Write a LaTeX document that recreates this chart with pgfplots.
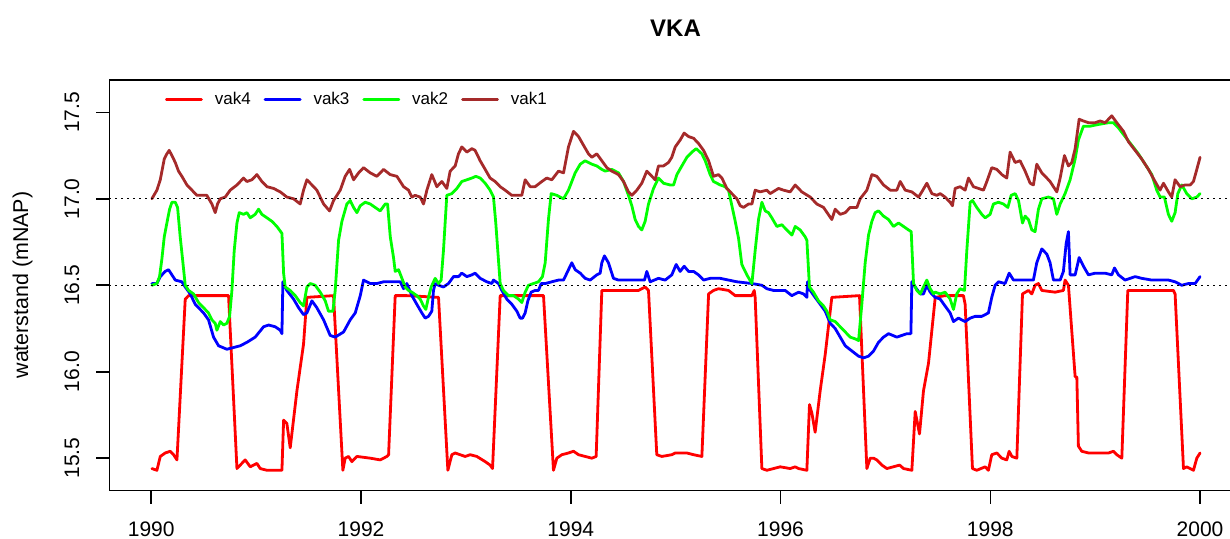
\documentclass[border=0pt]{standalone}
\usepackage{fontspec}
\setmainfont{Liberation Sans}
\usepackage{pgfplots}
\pgfplotsset{compat=1.18}
\definecolor{rred}{RGB}{255,0,0}
\definecolor{rblue}{RGB}{0,0,255}
\definecolor{rgreen}{RGB}{0,255,0}
\definecolor{rbrown}{RGB}{165,42,42}
\begin{document}
\begin{tikzpicture}
\begin{axis}[
  at={(54.65pt,23.75pt)}, anchor=south west,
  scale only axis, width=566.35pt, height=205.25pt,
  xmin=1989.6, xmax=2000.4, ymin=15.313, ymax=17.687,
  axis line style={line width=0.8pt},
  tick pos=left, tick align=outside, major tick length=6.5pt,
  tick style={black, line width=0.8pt},
  xtick={1990,1992,1994,1996,1998,2000},
  xticklabels={1990,1992,1994,1996,1998,2000},
  ytick={15.5,16.0,16.5,17.0,17.5},
  yticklabels={15.5,16.0,16.5,17.0,17.5},
  ticklabel style={font=\fontsize{10.5}{12}\selectfont},
  xticklabel style={yshift=-5.6pt},
  yticklabel style={xshift=-5pt, rotate=90, anchor=south},
  legend columns=4,
  legend style={draw=none, fill=none, inner sep=0pt, outer sep=0pt,
    at={(0.0492,0.9525)}, anchor=west,
    font=\fontsize{8.5}{10}\selectfont,
    nodes={inner sep=0pt},
    /tikz/every odd column/.append style={column sep=6pt},
    /tikz/every even column/.append style={column sep=6.5pt}},
  legend image code/.code={\draw[#1] (0pt,0pt) -- (17.5pt,0pt);},
  every axis plot/.append style={line width=1.4pt, line join=round, line cap=round},
]
\addplot[rred] coordinates {
(1990.006,15.44)(1990.054,15.43)(1990.086,15.51)(1990.133,15.53)(1990.181,15.54)(1990.213,15.52)(1990.245,15.49)
(1990.324,16.42)(1990.356,16.44)(1990.737,16.44)(1990.817,15.44)(1990.848,15.46)(1990.896,15.49)(1990.944,15.45)
(1991.007,15.47)(1991.039,15.44)(1991.103,15.43)(1991.246,15.43)(1991.262,15.72)(1991.293,15.70)(1991.325,15.56)
(1991.389,15.89)(1991.452,16.16)(1991.484,16.43)(1991.738,16.44)(1991.827,15.43)(1991.849,15.50)(1991.881,15.51)
(1991.913,15.48)(1991.961,15.51)(1992.088,15.50)(1992.183,15.49)(1992.247,15.51)(1992.263,15.52)(1992.326,16.44)
(1992.437,16.44)(1992.739,16.43)(1992.828,15.43)(1992.866,15.52)(1992.898,15.53)(1992.945,15.52)(1992.993,15.51)
(1993.041,15.52)(1993.104,15.51)(1993.184,15.48)(1993.231,15.46)(1993.254,15.44)(1993.327,16.44)(1993.740,16.44)
(1993.835,15.43)(1993.867,15.50)(1993.915,15.52)(1993.978,15.53)(1994.026,15.54)(1994.074,15.52)(1994.137,15.51)
(1994.201,15.50)(1994.242,15.51)(1994.296,16.47)(1994.487,16.47)(1994.646,16.47)(1994.709,16.49)(1994.741,16.47)
(1994.820,15.52)(1994.868,15.51)(1994.963,15.52)(1994.996,15.53)(1995.107,15.53)(1995.171,15.52)(1995.250,15.51)
(1995.314,16.45)(1995.361,16.47)(1995.409,16.48)(1995.504,16.47)(1995.568,16.44)(1995.727,16.44)(1995.749,16.47)
(1995.758,16.43)(1995.822,15.44)(1995.870,15.43)(1995.997,15.45)(1996.092,15.44)(1996.140,15.45)(1996.172,15.44)
(1996.251,15.43)(1996.276,15.81)(1996.299,15.76)(1996.330,15.65)(1996.378,15.89)(1996.426,16.10)(1996.489,16.43)
(1996.753,16.44)(1996.823,15.44)(1996.855,15.50)(1996.887,15.50)(1996.918,15.49)(1996.966,15.46)(1997.014,15.44)
(1997.135,15.46)(1997.173,15.44)(1997.252,15.43)(1997.284,15.77)(1997.325,15.64)(1997.363,15.89)(1997.411,16.05)
(1997.475,16.43)(1997.569,16.44)(1997.744,16.44)(1997.760,16.39)(1997.830,15.44)(1997.871,15.43)(1997.951,15.45)
(1997.982,15.43)(1998.014,15.52)(1998.062,15.53)(1998.110,15.50)(1998.157,15.49)(1998.180,15.54)(1998.205,15.51)
(1998.253,15.50)(1998.307,16.45)(1998.364,16.47)(1998.396,16.45)(1998.427,16.50)(1998.459,16.51)(1998.491,16.47)
(1998.618,16.46)(1998.697,16.47)(1998.713,16.53)(1998.745,16.50)(1998.809,15.97)(1998.825,15.97)(1998.840,15.57)
(1998.872,15.54)(1998.936,15.53)(1999.127,15.53)(1999.174,15.54)(1999.206,15.52)(1999.254,15.50)(1999.311,16.47)
(1999.540,16.47)(1999.746,16.47)(1999.762,16.45)(1999.842,15.44)(1999.873,15.45)(1999.905,15.44)(1999.937,15.43)
(1999.969,15.50)(2000.000,15.53)
};
\addlegendentry{vak4}
\addplot[rblue] coordinates {
(1990.006,16.51)(1990.054,16.51)(1990.086,16.55)(1990.133,16.58)(1990.165,16.59)(1990.197,16.56)(1990.229,16.53)
(1990.292,16.52)(1990.324,16.49)(1990.372,16.45)(1990.419,16.39)(1990.499,16.34)(1990.546,16.30)(1990.594,16.20)
(1990.642,16.15)(1990.721,16.13)(1990.785,16.14)(1990.848,16.15)(1990.912,16.17)(1990.991,16.20)(1991.071,16.26)
(1991.119,16.27)(1991.182,16.26)(1991.230,16.24)(1991.246,16.22)(1991.255,16.52)(1991.293,16.47)(1991.357,16.42)
(1991.405,16.37)(1991.452,16.33)(1991.484,16.34)(1991.532,16.41)(1991.579,16.37)(1991.643,16.30)(1991.706,16.21)
(1991.754,16.20)(1991.834,16.23)(1991.897,16.30)(1991.945,16.34)(1991.993,16.44)(1992.024,16.53)(1992.088,16.51)
(1992.151,16.51)(1992.215,16.52)(1992.310,16.52)(1992.374,16.52)(1992.406,16.48)(1992.437,16.51)(1992.485,16.44)
(1992.532,16.39)(1992.580,16.34)(1992.612,16.31)(1992.643,16.32)(1992.675,16.35)(1992.691,16.47)(1992.707,16.51)
(1992.739,16.50)(1992.786,16.49)(1992.834,16.51)(1992.882,16.55)(1992.929,16.55)(1992.961,16.57)(1993.009,16.55)
(1993.057,16.56)(1993.088,16.57)(1993.136,16.54)(1993.200,16.52)(1993.247,16.51)(1993.263,16.53)(1993.311,16.51)
(1993.343,16.47)(1993.390,16.42)(1993.438,16.39)(1993.486,16.35)(1993.517,16.31)(1993.540,16.31)(1993.565,16.34)
(1993.591,16.41)(1993.622,16.46)(1993.660,16.47)(1993.692,16.47)(1993.718,16.51)(1993.756,16.51)(1993.819,16.52)
(1993.883,16.53)(1993.931,16.53)(1993.978,16.59)(1994.010,16.63)(1994.042,16.59)(1994.090,16.57)(1994.137,16.54)
(1994.185,16.53)(1994.248,16.56)(1994.280,16.57)(1994.296,16.63)(1994.321,16.67)(1994.359,16.63)(1994.407,16.54)
(1994.455,16.53)(1994.518,16.53)(1994.646,16.53)(1994.703,16.53)(1994.725,16.58)(1994.757,16.52)(1994.836,16.54)
(1994.900,16.53)(1994.963,16.56)(1995.005,16.62)(1995.043,16.58)(1995.081,16.61)(1995.123,16.58)(1995.171,16.58)
(1995.218,16.56)(1995.266,16.53)(1995.329,16.54)(1995.425,16.54)(1995.584,16.52)(1995.727,16.51)(1995.822,16.50)
(1995.870,16.48)(1995.933,16.47)(1995.997,16.47)(1996.044,16.47)(1996.108,16.44)(1996.172,16.46)(1996.219,16.45)
(1996.251,16.43)(1996.257,16.52)(1996.283,16.47)(1996.330,16.43)(1996.378,16.39)(1996.426,16.35)(1996.474,16.28)
(1996.521,16.25)(1996.569,16.20)(1996.617,16.15)(1996.680,16.12)(1996.744,16.09)(1996.791,16.08)(1996.839,16.09)
(1996.887,16.12)(1996.934,16.17)(1996.982,16.20)(1997.030,16.22)(1997.109,16.20)(1997.157,16.21)(1997.205,16.22)
(1997.243,16.22)(1997.252,16.52)(1997.284,16.49)(1997.332,16.45)(1997.363,16.45)(1997.395,16.50)(1997.427,16.46)
(1997.474,16.43)(1997.522,16.42)(1997.569,16.38)(1997.617,16.34)(1997.649,16.29)(1997.696,16.31)(1997.760,16.29)
(1997.808,16.31)(1997.855,16.32)(1997.919,16.32)(1997.982,16.34)(1998.014,16.43)(1998.046,16.50)(1998.078,16.52)
(1998.141,16.51)(1998.180,16.57)(1998.221,16.53)(1998.284,16.53)(1998.364,16.53)(1998.411,16.53)(1998.443,16.63)
(1998.491,16.71)(1998.539,16.68)(1998.570,16.63)(1998.602,16.53)(1998.666,16.53)(1998.697,16.58)(1998.723,16.74)
(1998.745,16.81)(1998.761,16.56)(1998.809,16.56)(1998.847,16.66)(1998.888,16.61)(1998.936,16.56)(1998.999,16.57)
(1999.095,16.57)(1999.158,16.56)(1999.184,16.60)(1999.222,16.56)(1999.285,16.53)(1999.381,16.55)(1999.444,16.54)
(1999.540,16.53)(1999.699,16.53)(1999.762,16.52)(1999.826,16.50)(1999.889,16.51)(1999.953,16.51)(2000.000,16.55)
};
\addlegendentry{vak3}
\addplot[rgreen] coordinates {
(1990.006,16.50)(1990.054,16.51)(1990.079,16.55)(1990.101,16.65)(1990.124,16.78)(1990.149,16.86)(1990.175,16.94)
(1990.197,16.98)(1990.229,16.98)(1990.251,16.95)(1990.276,16.78)(1990.302,16.63)(1990.324,16.50)(1990.356,16.47)
(1990.403,16.45)(1990.451,16.40)(1990.499,16.37)(1990.546,16.34)(1990.578,16.30)(1990.610,16.28)(1990.626,16.24)
(1990.658,16.29)(1990.689,16.27)(1990.721,16.28)(1990.747,16.32)(1990.769,16.47)(1990.791,16.70)(1990.817,16.86)
(1990.839,16.92)(1990.880,16.91)(1990.912,16.92)(1990.944,16.89)(1990.991,16.91)(1991.023,16.94)(1991.055,16.91)
(1991.103,16.89)(1991.150,16.87)(1991.198,16.84)(1991.246,16.80)(1991.262,16.57)(1991.277,16.49)(1991.325,16.47)
(1991.373,16.44)(1991.420,16.40)(1991.452,16.38)(1991.484,16.49)(1991.516,16.51)(1991.563,16.50)(1991.611,16.46)
(1991.659,16.41)(1991.690,16.35)(1991.732,16.35)(1991.754,16.47)(1991.786,16.76)(1991.818,16.87)(1991.865,16.97)
(1991.897,16.99)(1991.929,16.95)(1991.961,16.92)(1991.993,16.96)(1992.040,16.98)(1992.088,16.97)(1992.135,16.95)
(1992.183,16.93)(1992.231,16.97)(1992.253,16.97)(1992.279,16.78)(1992.310,16.66)(1992.326,16.58)(1992.358,16.59)
(1992.390,16.54)(1992.421,16.49)(1992.453,16.47)(1992.485,16.46)(1992.532,16.44)(1992.564,16.42)(1992.596,16.38)
(1992.618,16.36)(1992.643,16.43)(1992.669,16.49)(1992.707,16.54)(1992.739,16.51)(1992.764,16.53)(1992.786,16.70)
(1992.818,17.02)(1992.866,17.03)(1992.914,17.06)(1992.961,17.10)(1993.009,17.11)(1993.057,17.12)(1993.095,17.13)
(1993.136,17.12)(1993.184,17.09)(1993.231,17.05)(1993.263,17.01)(1993.285,16.86)(1993.304,16.70)(1993.327,16.51)
(1993.358,16.47)(1993.406,16.44)(1993.454,16.44)(1993.502,16.42)(1993.533,16.40)(1993.565,16.46)(1993.597,16.50)
(1993.644,16.51)(1993.692,16.52)(1993.730,16.55)(1993.756,16.63)(1993.787,16.88)(1993.813,17.03)(1993.867,17.02)
(1993.931,17.00)(1993.978,17.05)(1994.042,17.15)(1994.090,17.20)(1994.137,17.22)(1994.201,17.20)(1994.248,17.19)
(1994.296,17.17)(1994.328,17.16)(1994.391,17.17)(1994.455,17.15)(1994.503,17.10)(1994.550,17.02)(1994.582,16.96)
(1994.614,16.88)(1994.646,16.84)(1994.677,16.82)(1994.709,16.87)(1994.741,16.97)(1994.789,17.06)(1994.836,17.12)
(1994.884,17.09)(1994.947,17.08)(1994.980,17.08)(1995.012,17.14)(1995.059,17.19)(1995.107,17.24)(1995.155,17.27)
(1995.196,17.29)(1995.250,17.26)(1995.282,17.22)(1995.329,17.14)(1995.361,17.10)(1995.425,17.08)(1995.472,17.07)
(1995.504,17.05)(1995.536,16.96)(1995.568,16.87)(1995.600,16.77)(1995.631,16.62)(1995.679,16.56)(1995.727,16.51)
(1995.758,16.70)(1995.790,16.88)(1995.822,16.98)(1995.854,16.93)(1995.885,16.92)(1995.917,16.89)(1995.965,16.84)
(1996.012,16.85)(1996.060,16.82)(1996.108,16.79)(1996.140,16.84)(1996.187,16.82)(1996.235,16.78)(1996.251,16.76)
(1996.276,16.49)(1996.314,16.46)(1996.362,16.41)(1996.410,16.38)(1996.442,16.35)(1996.474,16.30)(1996.521,16.29)
(1996.569,16.26)(1996.617,16.23)(1996.664,16.20)(1996.712,16.19)(1996.744,16.18)(1996.775,16.39)(1996.807,16.63)
(1996.839,16.79)(1996.871,16.87)(1996.902,16.92)(1996.934,16.93)(1996.982,16.90)(1997.030,16.88)(1997.077,16.84)
(1997.125,16.86)(1997.173,16.84)(1997.220,16.82)(1997.246,16.81)(1997.268,16.51)(1997.300,16.47)(1997.332,16.45)
(1997.363,16.49)(1997.395,16.53)(1997.427,16.48)(1997.459,16.45)(1997.474,16.46)(1997.522,16.45)(1997.569,16.46)
(1997.617,16.42)(1997.649,16.36)(1997.680,16.45)(1997.712,16.48)(1997.754,16.47)(1997.776,16.70)(1997.808,16.98)
(1997.830,16.99)(1997.871,16.95)(1997.919,16.91)(1997.951,16.89)(1997.998,16.91)(1998.030,16.97)(1998.078,16.98)
(1998.125,16.97)(1998.167,16.95)(1998.199,17.02)(1998.237,17.03)(1998.269,16.99)(1998.307,16.86)(1998.332,16.90)
(1998.364,16.88)(1998.396,16.82)(1998.427,16.81)(1998.459,16.94)(1998.491,17.00)(1998.554,17.01)(1998.602,17.00)
(1998.634,16.91)(1998.666,16.97)(1998.713,17.03)(1998.761,17.11)(1998.809,17.23)(1998.840,17.34)(1998.888,17.42)
(1998.952,17.42)(1999.031,17.43)(1999.127,17.44)(1999.174,17.44)(1999.222,17.41)(1999.285,17.36)(1999.349,17.31)
(1999.412,17.26)(1999.476,17.20)(1999.540,17.14)(1999.587,17.05)(1999.619,17.01)(1999.660,17.01)(1999.698,16.91)
(1999.730,16.87)(1999.762,16.92)(1999.788,17.03)(1999.826,17.08)(1999.873,17.03)(1999.921,17.00)(1999.969,17.01)
(2000.000,17.03)
};
\addlegendentry{vak2}
\addplot[rbrown] coordinates {
(1990.006,17.00)(1990.054,17.05)(1990.086,17.11)(1990.124,17.23)(1990.149,17.26)(1990.171,17.28)(1990.197,17.25)
(1990.229,17.21)(1990.260,17.16)(1990.292,17.13)(1990.340,17.08)(1990.388,17.05)(1990.435,17.02)(1990.483,17.02)
(1990.530,17.02)(1990.578,16.97)(1990.610,16.92)(1990.632,16.97)(1990.658,17.00)(1990.705,17.01)(1990.753,17.05)
(1990.817,17.08)(1990.880,17.12)(1990.912,17.10)(1990.959,17.11)(1991.007,17.14)(1991.055,17.10)(1991.103,17.07)
(1991.166,17.06)(1991.230,17.04)(1991.293,17.01)(1991.357,17.00)(1991.420,16.97)(1991.452,17.05)(1991.484,17.11)
(1991.532,17.08)(1991.579,17.05)(1991.643,16.97)(1991.700,16.93)(1991.738,16.99)(1991.802,17.05)(1991.849,17.13)
(1991.891,17.17)(1991.929,17.11)(1991.977,17.15)(1992.024,17.18)(1992.088,17.15)(1992.151,17.13)(1992.215,17.17)
(1992.278,17.14)(1992.342,17.13)(1992.406,17.07)(1992.453,17.05)(1992.485,17.01)(1992.516,17.02)(1992.564,17.01)
(1992.596,16.97)(1992.628,17.05)(1992.675,17.14)(1992.723,17.07)(1992.771,17.10)(1992.818,17.06)(1992.850,17.16)
(1992.898,17.19)(1992.929,17.26)(1992.961,17.30)(1993.009,17.27)(1993.057,17.29)(1993.088,17.28)(1993.136,17.22)
(1993.184,17.17)(1993.231,17.12)(1993.279,17.10)(1993.327,17.07)(1993.374,17.05)(1993.438,17.02)(1993.502,17.02)
(1993.533,17.02)(1993.565,17.11)(1993.613,17.07)(1993.660,17.07)(1993.724,17.10)(1993.771,17.12)(1993.819,17.11)
(1993.883,17.16)(1993.931,17.15)(1993.978,17.30)(1994.026,17.39)(1994.074,17.36)(1994.121,17.31)(1994.169,17.26)
(1994.201,17.24)(1994.248,17.26)(1994.296,17.22)(1994.344,17.18)(1994.391,17.16)(1994.455,17.14)(1994.503,17.10)
(1994.550,17.04)(1994.582,17.02)(1994.630,17.05)(1994.677,17.09)(1994.725,17.16)(1994.773,17.13)(1994.805,17.11)
(1994.836,17.19)(1994.884,17.19)(1994.932,17.21)(1994.963,17.24)(1994.996,17.30)(1995.043,17.34)(1995.081,17.38)
(1995.123,17.36)(1995.171,17.35)(1995.218,17.32)(1995.266,17.28)(1995.314,17.22)(1995.361,17.13)(1995.409,17.14)
(1995.441,17.12)(1995.488,17.06)(1995.536,17.03)(1995.584,17.00)(1995.615,16.96)(1995.647,16.95)(1995.695,16.97)
(1995.727,16.97)(1995.758,17.05)(1995.806,17.04)(1995.870,17.05)(1995.901,17.03)(1995.981,17.06)(1996.028,17.05)
(1996.092,17.04)(1996.140,17.08)(1996.203,17.04)(1996.283,17.01)(1996.346,16.97)(1996.410,16.95)(1996.489,16.88)
(1996.521,16.94)(1996.569,16.91)(1996.617,16.92)(1996.664,16.95)(1996.728,16.95)(1996.759,17.00)(1996.823,17.05)
(1996.871,17.14)(1996.918,17.13)(1996.982,17.08)(1997.046,17.05)(1997.109,17.05)(1997.141,17.10)(1997.189,17.05)
(1997.252,17.04)(1997.316,17.01)(1997.347,17.04)(1997.395,17.09)(1997.443,17.03)(1997.490,17.02)(1997.522,17.03)
(1997.569,17.01)(1997.617,16.98)(1997.639,16.96)(1997.665,17.06)(1997.712,17.07)(1997.760,17.05)(1997.792,17.12)
(1997.839,17.07)(1997.887,17.06)(1997.935,17.05)(1997.967,17.10)(1998.014,17.18)(1998.062,17.17)(1998.110,17.14)
(1998.157,17.12)(1998.189,17.27)(1998.237,17.21)(1998.284,17.22)(1998.332,17.16)(1998.380,17.09)(1998.411,17.08)
(1998.443,17.20)(1998.491,17.15)(1998.539,17.12)(1998.570,17.10)(1998.602,17.07)(1998.634,17.04)(1998.666,17.12)
(1998.707,17.25)(1998.745,17.19)(1998.777,17.21)(1998.809,17.29)(1998.847,17.46)(1998.888,17.45)(1998.936,17.44)
(1998.999,17.44)(1999.047,17.45)(1999.095,17.44)(1999.158,17.48)(1999.206,17.44)(1999.270,17.39)(1999.317,17.33)
(1999.381,17.28)(1999.444,17.23)(1999.508,17.17)(1999.571,17.10)(1999.619,17.05)(1999.651,17.09)(1999.698,17.04)
(1999.730,17.01)(1999.762,17.11)(1999.810,17.07)(1999.857,17.08)(1999.905,17.08)(1999.937,17.10)(1999.969,17.17)
(2000.000,17.24)
};
\addlegendentry{vak1}
\addplot[black, line width=0.6pt, line cap=butt, dash pattern=on 0.7pt off 2.3pt, forget plot] coordinates {(1989.6,16.5)(2000.4,16.5)};
\addplot[black, line width=0.6pt, line cap=butt, dash pattern=on 0.7pt off 2.3pt, forget plot] coordinates {(1989.6,17.0)(2000.4,17.0)};
\end{axis}
\node[anchor=base, font=\bfseries\fontsize{12}{14}\selectfont] at (337.75pt,251pt) {VKA};
\node[rotate=90, anchor=base, font=\fontsize{10.7}{12}\selectfont] at (14pt,126.5pt) {waterstand (mNAP)};
\pgfresetboundingbox
\useasboundingbox (0,0) rectangle (615pt,269pt);
\end{tikzpicture}
\end{document}
